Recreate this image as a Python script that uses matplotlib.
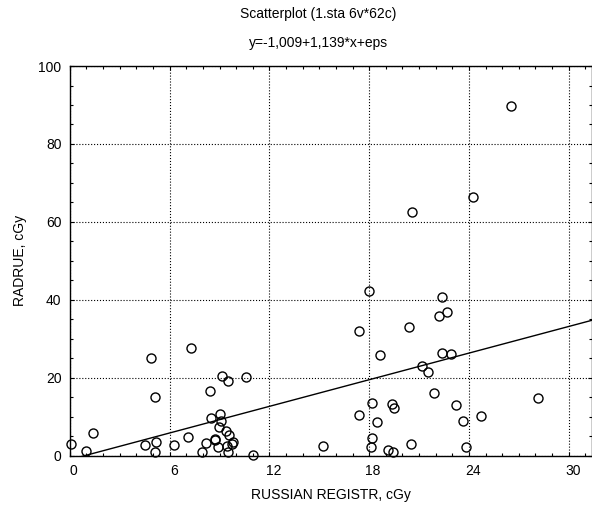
import numpy as np
import matplotlib.pyplot as plt
import matplotlib.transforms as mtransforms
from matplotlib.ticker import MultipleLocator

plt.rcParams['font.family'] = ['Liberation Sans Narrow', 'Liberation Sans', 'DejaVu Sans']

# RUSSIAN REGISTR, cGy
russian = [0.06, 1.0, 1.4, 4.85, 5.1, 4.5, 5.2, 5.1, 6.26, 7.1,
           7.3, 7.96, 8.2, 8.4, 8.5, 8.7, 8.75, 8.9, 8.96, 9.0,
           9.1, 9.16, 9.37, 9.43, 9.5, 9.5, 9.6, 9.77, 9.8, 10.6,
           11.0,
           15.24, 18.0, 17.4, 18.65, 17.36, 18.2, 18.5, 18.15, 18.1,
           19.15, 19.45, 19.4, 19.5, 20.4, 20.5, 21.2, 21.55, 21.9,
           22.2, 22.4, 22.7, 22.4, 22.9, 23.2, 23.66, 23.8, 24.7,
           28.15, 26.5, 24.26, 20.55]
# RADRUE, cGy
radrue = [3.0, 1.2, 5.9, 25.0, 15.1, 2.8, 3.5, 0.9, 2.8, 4.8,
          27.7, 1.0, 3.3, 16.7, 9.6, 4.4, 4.0, 2.1, 7.4, 10.8,
          8.9, 20.4, 6.3, 2.5, 19.2, 1.0, 5.4, 3.1, 3.4, 20.1,
          0.1,
          2.5, 42.3, 32.0, 25.8, 10.4, 13.6, 8.7, 4.6, 2.3,
          1.4, 0.9, 13.3, 12.2, 32.9, 2.9, 22.9, 21.5, 16.0,
          35.9, 40.6, 36.9, 26.4, 26.1, 13.0, 8.9, 2.1, 10.2,
          14.8, 89.7, 66.5, 62.5]

intercept, slope = -1.009, 1.139
xticks = [0, 6, 12, 18, 24, 30]
yticks = [0, 20, 40, 60, 80, 100]

fig = plt.figure(figsize=(5.92, 5.12), dpi=100)
ax = fig.add_axes([0.118, 0.110, 0.882, 0.761])

ax.plot(russian, radrue, 'o', mfc='none', mec='black', mew=1.0, ms=6.5,
        clip_on=False, zorder=3)

xlim = (0, 31.4)
xs = np.array(xlim)
ax.plot(xs, intercept + slope * xs, color='black', lw=1.0, zorder=2)

ax.set_xlim(*xlim)
ax.set_ylim(0, 100)
ax.set_xticks(xticks)
ax.set_yticks(yticks)
ax.xaxis.set_minor_locator(MultipleLocator(1))
ax.yaxis.set_minor_locator(MultipleLocator(5))
ax.tick_params(which='both', direction='in', top=True, right=True,
               labelsize=10, width=0.8)
ax.tick_params(which='major', length=3, pad=6)
ax.tick_params(which='minor', length=2)
ax.grid(True, which='major', linestyle=':', color='black', lw=0.8)
for s in ax.spines.values():
    s.set_linewidth(1.0)

# x tick labels sit a little right of their ticks in the original
shift = mtransforms.ScaledTranslation(4 / 100, 0, fig.dpi_scale_trans)
for lbl in ax.get_xticklabels():
    lbl.set_transform(lbl.get_transform() + shift)

ax.set_xlabel('RUSSIAN REGISTR, cGy', fontsize=10, labelpad=7)
ax.set_ylabel('RADRUE, cGy', fontsize=10, labelpad=8)

fig.text(318 / 592, 1 - 14 / 512, 'Scatterplot (1.sta 6v*62c)',
         ha='center', va='center', fontsize=10)
fig.text(318 / 592, 1 - 43 / 512, 'y=-1,009+1,139*x+eps',
         ha='center', va='center', fontsize=10)

fig.savefig('out.png', dpi=100)
